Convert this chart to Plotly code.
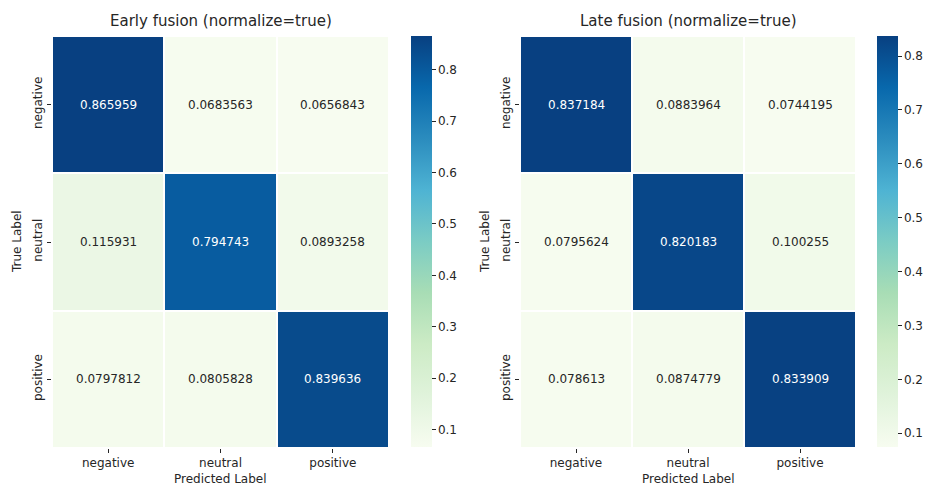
import plotly.graph_objects as go

labels = ["negative", "neutral", "positive"]
early = [[0.865959, 0.0683563, 0.0656843],
         [0.115931, 0.794743, 0.0893258],
         [0.0797812, 0.0805828, 0.839636]]
late = [[0.837184, 0.0883964, 0.0744195],
        [0.0795624, 0.820183, 0.100255],
        [0.078613, 0.0874779, 0.833909]]
titles = ["Early fusion (normalize=true)", "Late fusion (normalize=true)"]
cbar_ticks = [0.1, 0.2, 0.3, 0.4, 0.5, 0.6, 0.7, 0.8]

GNBU = ['#f7fcf0', '#e0f3db', '#ccebc5', '#a8ddb5', '#7bccc4',
        '#4eb3d3', '#2b8cbe', '#0868ac', '#084081']
scale = [[i / (len(GNBU) - 1), c] for i, c in enumerate(GNBU)]

W, H = 929, 485
FONT = "DejaVu Sans"
TXT = "#262626"

def px_x(p):
    return p / W

def px_y(p):
    return 1 - p / H

panels = [
    dict(z=early, x0=52, x1=389, cb=411, title=titles[0], ylab_x=17, xa="x", ya="y", ca="coloraxis"),
    dict(z=late, x0=520, x1=856, cb=877, title=titles[1], ylab_x=485, xa="x2", ya="y2", ca="coloraxis2"),
]
top, bot = 36, 448

fig = go.Figure()
layout = dict(width=W, height=H, margin=dict(l=0, r=0, t=0, b=0, autoexpand=False),
              paper_bgcolor="white", plot_bgcolor="white",
              font=dict(family=FONT, size=12, color=TXT), showlegend=False)
annotations = []

for i, p in enumerate(panels):
    z = p["z"]
    zmin = min(min(r) for r in z)
    zmax = max(max(r) for r in z)
    fig.add_trace(go.Heatmap(z=z, x=labels, y=labels, coloraxis=p["ca"],
                             xgap=2, ygap=2, xaxis=p["xa"], yaxis=p["ya"],
                             hoverinfo="skip"))
    sfx = "" if i == 0 else "2"
    layout["xaxis" + sfx] = dict(domain=[px_x(p["x0"]), px_x(p["x1"])], anchor="y" + sfx,
                                 showgrid=False, zeroline=False, showline=False, automargin=False,
                                 ticks="outside", ticklen=4, tickcolor=TXT,
                                 tickfont=dict(size=12, color=TXT))
    layout["yaxis" + sfx] = dict(domain=[px_y(bot), px_y(top)], anchor="x" + sfx,
                                 autorange="reversed", showgrid=False, zeroline=False,
                                 showline=False, automargin=False, ticks="outside", ticklen=4,
                                 tickcolor=TXT, tickangle=-90, tickfont=dict(size=12, color=TXT))
    layout[p["ca"]] = dict(colorscale=scale, cmin=zmin, cmax=zmax,
                           colorbar=dict(x=px_x(p["cb"]), xanchor="left", thickness=21,
                                         xpad=0, ypad=0,
                                         lenmode="pixels", len=bot - top - 1,
                                         y=px_y((top + bot - 1) / 2), yanchor="middle",
                                         outlinewidth=0, ticks="outside", ticklen=4,
                                         tickcolor=TXT, tickvals=cbar_ticks,
                                         tickfont=dict(size=12, color=TXT)))
    for r, row in enumerate(z):
        for c, v in enumerate(row):
            frac = (v - zmin) / (zmax - zmin)
            col = "white" if frac > 0.5 else TXT
            annotations.append(dict(x=labels[c], y=labels[r], xref=p["xa"], yref=p["ya"],
                                    text=f"{v:g}", showarrow=False,
                                    font=dict(size=12, color=col, family=FONT)))
    cx = (p["x0"] + p["x1"]) / 2
    annotations.append(dict(x=px_x(cx), y=px_y(21), xref="paper", yref="paper",
                            xanchor="center", yanchor="middle",
                            text=p["title"], showarrow=False,
                            font=dict(size=15, color=TXT, family=FONT)))
    annotations.append(dict(x=px_x(cx), y=px_y(479), xref="paper", yref="paper",
                            xanchor="center", yanchor="middle",
                            text="Predicted Label", showarrow=False,
                            font=dict(size=12, color=TXT, family=FONT)))
    annotations.append(dict(x=px_x(p["ylab_x"]), y=px_y((top + bot) / 2), xref="paper", yref="paper",
                            xanchor="center", yanchor="middle",
                            text="True Label", showarrow=False, textangle=-90,
                            font=dict(size=12, color=TXT, family=FONT)))

layout["annotations"] = annotations
fig.update_layout(**layout)
fig.write_html("out.html", config={"displayModeBar": False},
               post_script="document.body.style.margin='0';document.body.style.overflow='hidden';")
